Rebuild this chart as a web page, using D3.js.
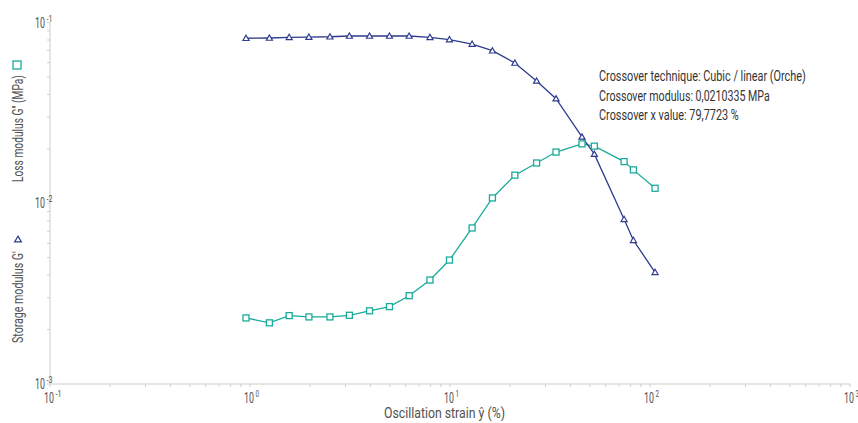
<!DOCTYPE html>
<html>
<head>
<meta charset="utf-8">
<script src="https://cdn.jsdelivr.net/npm/d3@7"></script>
<style>
  body { margin: 0; background: #fff; }
  text { font-family: "Roboto", "DejaVu Sans Condensed", sans-serif; font-weight: 400; }
</style>
</head>
<body>
<svg id="chart"></svg>
<script>
// oscillation strain (%)
var strain = [0.955, 1.25, 1.57, 1.97, 2.51, 3.14, 3.96, 4.98, 6.25, 7.94, 9.94,
  12.9, 16.3, 21.1, 27.1, 33.9, 45.7, 52.7, 74.2, 82.6, 106];
// storage modulus G' (MPa)
var storage = [0.0818, 0.0821, 0.0828, 0.0831, 0.0834, 0.0842, 0.0842, 0.0842, 0.0842, 0.0828, 0.0805,
  0.0760, 0.0698, 0.0597, 0.0475, 0.0379, 0.0233, 0.0187, 0.00815, 0.00624, 0.00415];
// loss modulus G'' (MPa)
var loss = [0.00232, 0.00218, 0.00239, 0.00235, 0.00235, 0.00240, 0.00254, 0.00268, 0.00308, 0.00376, 0.00485,
  0.0073, 0.0107, 0.0143, 0.0167, 0.0192, 0.0213, 0.0207, 0.0170, 0.0153, 0.0121];

var xTicks = [0.1, 1, 10, 100, 1000];
var xTickExp = ["-1", "0", "1", "2", "3"];
var yTicks = [0.001, 0.01, 0.1];
var yTickExp = ["-3", "-2", "-1"];
var notes = [
  "Crossover technique: Cubic / linear (Orche)",
  "Crossover modulus: 0,0210335 MPa",
  "Crossover x value: 79,7723 %"
];
var noteWidths = [207, 171, 140];

var width = 858, height = 423;
var margin = { top: 22.5, right: 8, bottom: 39, left: 50 };
var blue = "#2e3b8e", teal = "#1aab9b", grey = "#505050";

var svg = d3.select("#chart").attr("width", width).attr("height", height);

var x = d3.scaleLog().domain([0.1, 1000]).range([margin.left, width - margin.right]);
var y = d3.scaleLog().domain([0.001, 0.1]).range([height - margin.bottom, margin.top]);

// condensed text: draw at (px,py), squeeze horizontally to a given width
function narrowText(parent, str, px, py, size, w, fill) {
  var g = parent.append("g");
  var t = g.append("text").attr("x", 0).attr("y", 0)
    .style("font-size", size + "px").style("fill", fill || grey).text(str);
  var k = w / t.node().getComputedTextLength();
  g.attr("transform", "translate(" + px + "," + py + ") scale(" + k + ",1)");
  return g;
}

// minor ticks
var minorX = [], minorY = [];
[0.1, 1, 10, 100].forEach(function (d) { for (var k = 2; k <= 9; k++) minorX.push(d * k); });
[0.001, 0.01].forEach(function (d) { for (var k = 2; k <= 9; k++) minorY.push(d * k); });

var yb = y(0.001);
svg.append("line").attr("x1", x(0.1)).attr("x2", x(1000)).attr("y1", yb).attr("y2", yb)
  .style("stroke", "#dcdcdc").style("stroke-width", 1.5);
svg.append("line").attr("x1", x(0.1)).attr("x2", x(0.1)).attr("y1", y(0.1)).attr("y2", yb)
  .style("stroke", "#dcdcdc").style("stroke-width", 1.5);

svg.selectAll(".xminor").data(minorX.concat(xTicks)).enter().append("line")
  .attr("x1", function (d) { return x(d); }).attr("x2", function (d) { return x(d); })
  .attr("y1", yb).attr("y2", yb + 3)
  .style("stroke", "#cfcfcf").style("stroke-width", 1);
svg.selectAll(".yminor").data(minorY.concat(yTicks)).enter().append("line")
  .attr("x1", x(0.1) - 3).attr("x2", x(0.1))
  .attr("y1", function (d) { return y(d); }).attr("y2", function (d) { return y(d); })
  .style("stroke", "#cfcfcf").style("stroke-width", 1);

// tick labels: "10" plus a small exponent
function tickLabel(cx, cy, exp) {
  narrowText(svg, "10", cx - 11, cy, 14, 10);
  narrowText(svg, exp, cx + 0.5, cy - 6, 9, exp.length > 1 ? 6 : 3.5);
}
xTicks.forEach(function (d, i) { tickLabel(x(d) + 5, yb + 19, xTickExp[i]); });
yTicks.forEach(function (d, i) { tickLabel(x(0.1) - 4, y(d) + 5, yTickExp[i]); });

// axis titles
narrowText(svg, "Oscillation strain \u0177 (%)", 384, 418, 14.5, 121);

var yt = svg.append("g").attr("transform", "translate(23,343) rotate(-90)");
narrowText(yt, "Storage modulus G'", 0, 0, 14.5, 92);
yt.append("path").attr("d", d3.symbol().type(d3.symbolTriangle).size(20)())
  .attr("transform", "translate(103,-5) rotate(90)")
  .style("fill", "none").style("stroke", blue).style("stroke-width", 1.2);
narrowText(yt, "Loss modulus G'' (MPa)", 161, 0, 14.5, 107);
yt.append("rect").attr("x", 274).attr("y", -10).attr("width", 8).attr("height", 8)
  .style("fill", "none").style("stroke", teal).style("stroke-width", 1.3);

// series
var lineG = d3.line().x(function (d, i) { return x(strain[i]); }).y(function (d) { return y(d); });

svg.append("path").datum(loss).attr("d", lineG)
  .style("fill", "none").style("stroke", teal).style("stroke-width", 1.3);
svg.append("path").datum(storage).attr("d", lineG)
  .style("fill", "none").style("stroke", blue).style("stroke-width", 1.3);

svg.selectAll(".sq").data(loss).enter().append("rect")
  .attr("x", function (d, i) { return x(strain[i]) - 3; })
  .attr("y", function (d) { return y(d) - 3; })
  .attr("width", 6).attr("height", 6)
  .style("fill", "#fff").style("stroke", teal).style("stroke-width", 1.3);

svg.selectAll(".tri").data(storage).enter().append("path")
  .attr("d", d3.symbol().type(d3.symbolTriangle).size(16)())
  .attr("transform", function (d, i) { return "translate(" + x(strain[i]) + "," + (y(d) + 0.5) + ")"; })
  .style("fill", "#fff").style("stroke", blue).style("stroke-width", 1.2);

// crossover annotation
notes.forEach(function (d, i) {
  narrowText(svg, d, 599, 81 + i * 19.5, 14, noteWidths[i], "#333");
});
</script>
</body>
</html>
